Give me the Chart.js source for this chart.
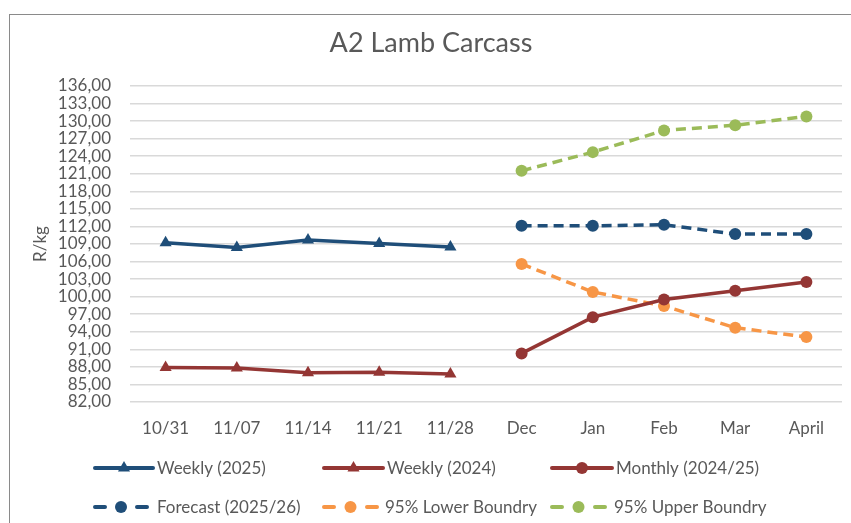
<!DOCTYPE html>
<html>
<head>
<meta charset="utf-8">
<script src="https://cdn.jsdelivr.net/npm/chart.js@4"></script>
<style>
  html, body { margin: 0; padding: 0; background: #fff; }
  #wrap { position: relative; width: 851px; height: 523px; }
  #frame { position: absolute; left: 9px; top: 14px; right: -2px; bottom: -2px; border-left: 1.5px solid #8a8a8a; border-top: 1.5px solid #8a8a8a; }
  canvas { position: absolute; left: 0; top: 0; }
</style>
</head>
<body>
<div id="wrap">
  <div id="frame"></div>
  <canvas id="chart" width="851" height="523"></canvas>
</div>
<script>
// categories
const labels = ['10/31', '11/07', '11/14', '11/21', '11/28', 'Dec', 'Jan', 'Feb', 'Mar', 'April']

// series values (R/kg)
const weekly2025 = [109.2, 108.4, 109.7, 109.1, 108.5, null, null, null, null, null]
const weekly2024 = [87.9, 87.8, 87.0, 87.1, 86.8, null, null, null, null, null]
const monthly2425 = [null, null, null, null, null, 90.3, 96.5, 99.5, 101.0, 102.5]
const forecast2526 = [null, null, null, null, null, 112.1, 112.1, 112.3, 110.7, 110.7]
const lower95 = [null, null, null, null, null, 105.6, 100.8, 98.4, 94.7, 93.1]
const upper95 = [null, null, null, null, null, 121.5, 124.7, 128.4, 129.3, 130.8]

// y axis ticks
const yMin = 82
const yMax = 136
const yStep = 3

const BLUE = '#1f4e79'
const RED = '#943634'
const ORANGE = '#f79646'
const GREEN = '#9bbb59'
const TEXT = '#595959'
const FONT = 'Lato'

function series(label, data, color, style, dashed) {
  return {
    label: label,
    data: data,
    borderColor: color,
    backgroundColor: color,
    borderWidth: 3.5,
    borderDash: dashed ? [10, 6] : [],
    pointStyle: style,
    pointRadius: style === 'triangle' ? 7 : 6,
    pointHoverRadius: 6,
    pointBorderWidth: 0,
    tension: 0,
    spanGaps: false
  }
}

let datasets = [
  series('Weekly (2025)', weekly2025, BLUE, 'triangle', false),
  series('Weekly (2024)', weekly2024, RED, 'triangle', false),
  series('Monthly (2024/25)', monthly2425, RED, 'circle', false),
  series('Forecast (2025/26)', forecast2526, BLUE, 'circle', true),
  series('95% Lower Boundry', lower95, ORANGE, 'circle', true),
  series('95% Upper Boundry', upper95, GREEN, 'circle', true)
]

// legend slots: [lineStart, lineEnd, textX, rowY]
const legendPos = [
  [95, 153, 157, 468], [324, 383, 387, 468], [552, 612, 616, 468],
  [95, 147, 157, 507], [324, 377, 385, 507], [552, 605, 614, 507]
]

const decor = {
  id: 'decor',
  afterDraw: chart => {
    let ctx = chart.ctx
    ctx.save()
    // title
    ctx.fillStyle = TEXT
    ctx.font = '27px ' + FONT
    ctx.textAlign = 'center'
    ctx.textBaseline = 'middle'
    ctx.fillText('A2 Lamb Carcass', 431, 43)

    // legend
    ctx.font = '17px ' + FONT
    ctx.textAlign = 'left'
    chart.data.datasets.forEach((ds, i) => {
      let p = legendPos[i]
      let mid = (p[0] + p[1]) / 2
      ctx.strokeStyle = ds.borderColor
      ctx.lineWidth = 4
      ctx.lineCap = 'round'
      ctx.beginPath()
      if (ds.borderDash.length) {
        ctx.moveTo(p[0], p[3]); ctx.lineTo(p[0] + 10, p[3])
        ctx.moveTo(p[1] - 10, p[3]); ctx.lineTo(p[1], p[3])
      } else {
        ctx.moveTo(p[0], p[3]); ctx.lineTo(p[1], p[3])
      }
      ctx.stroke()
      ctx.fillStyle = ds.backgroundColor
      Chart.helpers.drawPoint(ctx, {pointStyle: ds.pointStyle, radius: ds.pointStyle === 'triangle' ? 7 : 6, borderWidth: 0, rotation: 0}, mid, p[3])
      ctx.fillStyle = TEXT
      ctx.fillText(ds.label, p[2], p[3] + 1)
    })
    ctx.restore()
  }
}

new Chart(document.getElementById('chart'), {
  type: 'line',
  data: { labels: labels, datasets: datasets },
  plugins: [decor],
  options: {
    responsive: false,
    animation: false,
    layout: { padding: { left: 10, right: 9, top: 86, bottom: 71 } },
    plugins: {
      legend: { display: false },
      title: { display: false },
      tooltip: { enabled: false }
    },
    scales: {
      x: {
        offset: true,
        grid: { display: false, drawTicks: false },
        border: { display: false },
        ticks: { color: TEXT, font: { family: FONT, size: 17 }, padding: 16, maxRotation: 0, autoSkip: false },
        afterFit: scale => { scale.height = 50 }
      },
      y: {
        min: yMin,
        max: yMax,
        grid: { color: '#d9d9d9', lineWidth: 1.5, drawTicks: false },
        border: { display: false },
        ticks: {
          stepSize: yStep,
          autoSkip: false,
          color: TEXT,
          padding: 19,
          font: { family: FONT, size: 17 },
          callback: v => v.toFixed(2).replace('.', ',')
        },
        title: {
          display: true,
          text: 'R/kg',
          color: TEXT,
          font: { family: FONT, size: 17 },
          padding: { top: 20, bottom: 0 }
        },
        afterFit: scale => { scale.width = 120 }
      }
    }
  }
})
</script>
</body>
</html>
